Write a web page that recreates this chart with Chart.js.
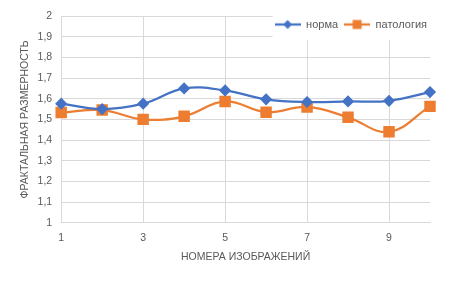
<!DOCTYPE html>
<html>
<head>
<meta charset="utf-8">
<script src="https://cdn.jsdelivr.net/npm/chart.js@4/dist/chart.umd.min.js"></script>
<style>
  html, body { margin: 0; padding: 0; background: #fff; }
  #wrap { width: 451px; height: 281px; }
</style>
</head>
<body>
<div id="wrap"><canvas id="chart"></canvas></div>
<script>
// данные
const imageNumbers = ['1', '2', '3', '4', '5', '6', '7', '8', '9', '10'];
const normaValues = [1.576, 1.55, 1.576, 1.65, 1.64, 1.597, 1.584, 1.587, 1.59, 1.632];
const patologiaValues = [1.533, 1.545, 1.5, 1.515, 1.587, 1.535, 1.56, 1.51, 1.44, 1.563];
const seriesNames = ['норма', 'патология'];
const yMin = 1, yMax = 2, yStep = 0.1;

const blue = '#4472C4';
const orange = '#ED7D31';
const textGrey = '#595959';
const gridGrey = '#d9d9d9';
const fontFamily = '"Liberation Sans", Arial, sans-serif';

// маркер легенды: линия + точка
function legendIcon(color, kind) {
  let c = document.createElement('canvas');
  c.width = 26; c.height = 12;
  let ctx = c.getContext('2d');
  ctx.strokeStyle = color;
  ctx.lineWidth = 2.25;
  ctx.beginPath();
  ctx.moveTo(0, 6); ctx.lineTo(26, 6);
  ctx.stroke();
  ctx.fillStyle = color;
  ctx.beginPath();
  if (kind == 'diamond') {
    ctx.moveTo(13, 1.5); ctx.lineTo(17.5, 6); ctx.lineTo(13, 10.5); ctx.lineTo(8.5, 6);
    ctx.closePath();
  } else {
    ctx.rect(8.5, 1.5, 9, 9);
  }
  ctx.fill();
  return c;
}
const legendIcons = [legendIcon(blue, 'diamond'), legendIcon(orange, 'square')];

// фон легенды поверх сетки
const legendBackground = {
  id: 'legendBackground',
  afterLayout(chart) {
    let lg = chart.legend;
    let h = lg.bottom - lg.top;
    lg.top = 13;
    lg.bottom = lg.top + h;
    lg.left += 3;
    lg.right += 3;
  },
  beforeDatasetsDraw(chart) {
    let lg = chart.legend;
    let hb = lg.legendHitBoxes;
    if (!hb || !hb.length) return;
    let x0 = hb[0].left - 2;
    let x1 = chart.chartArea.right + 1;
    let ctx = chart.ctx;
    ctx.save();
    ctx.fillStyle = '#fff';
    ctx.fillRect(x0, lg.top, x1 - x0, lg.bottom - lg.top);
    ctx.restore();
    lg.draw();
  }
};

new Chart(document.getElementById('chart'), {
  type: 'line',
  data: {
    labels: imageNumbers,
    datasets: [
      {
        label: seriesNames[0],
        data: normaValues,
        borderColor: blue,
        backgroundColor: blue,
        borderWidth: 2.25,
        pointStyle: 'rectRot',
        pointRadius: 4.5,
        pointHoverRadius: 4.5,
        tension: 0.4
      },
      {
        label: seriesNames[1],
        data: patologiaValues,
        borderColor: orange,
        backgroundColor: orange,
        borderWidth: 2.25,
        pointStyle: 'rect',
        pointRadius: 6.5,
        pointHoverRadius: 6.5,
        tension: 0.4
      }
    ]
  },
  options: {
    responsive: true,
    maintainAspectRatio: false,
    animation: false,
    events: [],
    layout: { padding: { left: 19, right: 21, top: -11, bottom: 18 } },
    plugins: {
      tooltip: { enabled: false },
      legend: {
        position: 'top',
        align: 'end',
        labels: {
          usePointStyle: true,
          pointStyleWidth: 26,
          boxHeight: 10,
          padding: 6,
          color: textGrey,
          font: { family: fontFamily, size: 11 },
          generateLabels(chart) {
            let items = Chart.defaults.plugins.legend.labels.generateLabels(chart);
            items.forEach((it, i) => { it.pointStyle = legendIcons[i]; });
            return items;
          }
        }
      }
    },
    scales: {
      x: {
        type: 'category',
        offset: false,
        grid: {
          drawTicks: false,
          color: (ctx) => (ctx.index % 2 == 0 ? gridGrey : 'rgba(0,0,0,0)'),
          lineWidth: 1
        },
        border: { color: gridGrey },
        ticks: {
          autoSkip: false,
          maxRotation: 0,
          padding: 9,
          color: textGrey,
          font: { family: fontFamily, size: 10.5 },
          callback: function (value, index) { return index % 2 == 0 ? this.getLabelForValue(value) : ''; }
        },
        title: {
          display: true,
          text: 'НОМЕРА ИЗОБРАЖЕНИЙ',
          color: textGrey,
          font: { family: fontFamily, size: 10.5 },
          padding: { top: -3, bottom: 0 }
        }
      },
      y: {
        min: yMin,
        max: yMax,
        grid: { drawTicks: false, color: gridGrey, lineWidth: 1 },
        border: { display: false },
        ticks: {
          stepSize: yStep,
          padding: 9,
          color: textGrey,
          font: { family: fontFamily, size: 10.5 },
          callback: (v) => {
            let r = Math.round(v * 10) / 10;
            return Number.isInteger(r) ? String(r) : r.toFixed(1).replace('.', ',');
          }
        },
        title: {
          display: true,
          text: 'ФРАКТАЛЬНАЯ РАЗМЕРНОСТЬ',
          color: textGrey,
          font: { family: fontFamily, size: 10.5 },
          padding: { top: 0, bottom: -3 }
        }
      }
    }
  },
  plugins: [legendBackground]
});
</script>
</body>
</html>
